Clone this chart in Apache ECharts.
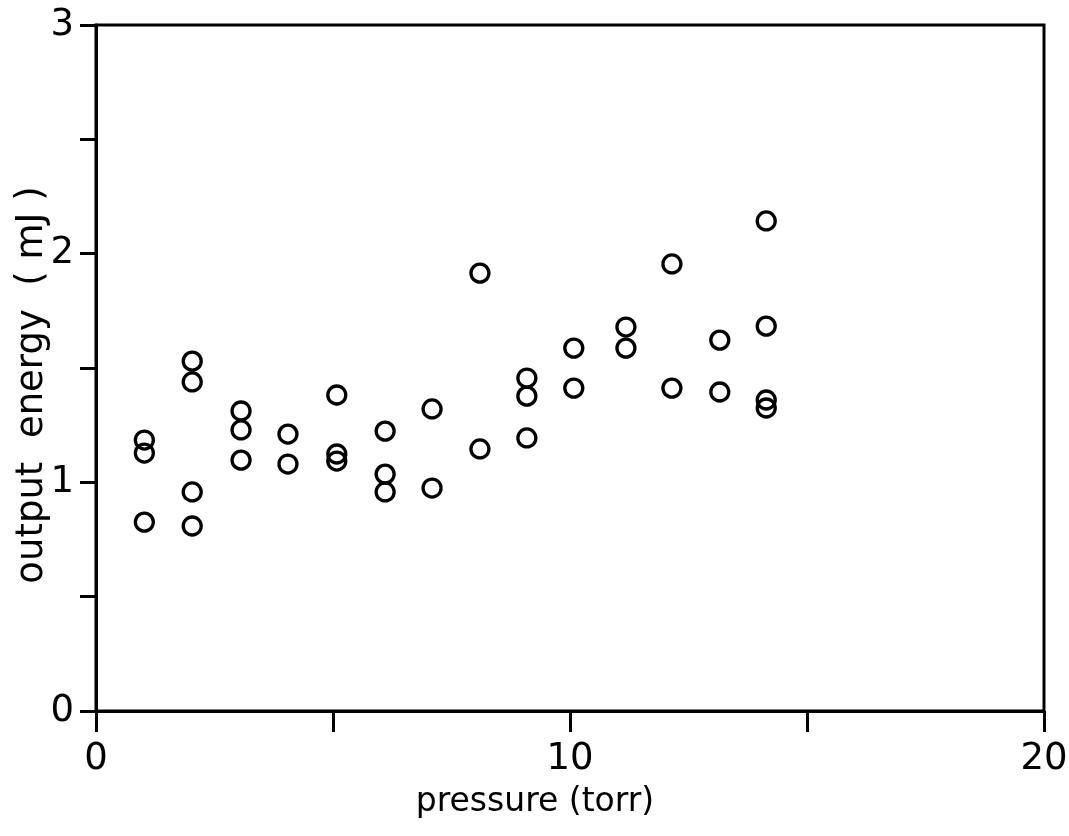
<!DOCTYPE html>
<html>
<head>
<meta charset="utf-8">
<style>
  html, body { margin: 0; padding: 0; background: #fff; }
  #chart { width: 1069px; height: 836px; }
</style>
<script src="https://cdn.jsdelivr.net/npm/echarts@6/dist/echarts.min.js"></script>
</head>
<body>
<div id="chart"></div>
<script>
// pressure (torr) of each measured point
const pressure = [
  1.02, 1.02, 1.02,
  2.03, 2.03, 2.03, 2.03,
  3.06, 3.06, 3.06,
  4.05, 4.05,
  5.08, 5.08, 5.08,
  6.10, 6.10, 6.10,
  7.09, 7.09,
  8.10, 8.10,
  9.09, 9.09, 9.09,
  10.08, 10.08,
  11.18, 11.18,
  12.15, 12.15,
  13.16, 13.16,
  14.14, 14.14, 14.14, 14.14
];
// output energy (mJ) of each measured point
const energy = [
  1.185, 1.128, 0.826,
  1.530, 1.439, 0.958, 0.809,
  1.312, 1.229, 1.097,
  1.211, 1.080,
  1.382, 1.124, 1.093,
  1.224, 1.036, 0.958,
  1.321, 0.975,
  1.915, 1.146,
  1.456, 1.377, 1.194,
  1.587, 1.412,
  1.679, 1.587,
  1.955, 1.412,
  1.622, 1.395,
  2.143, 1.683, 1.360, 1.325
];
const xTickLabels = [0, 10, 20];
const yTickLabels = [0, 1, 2, 3];

const points = pressure.map((p, i) => [p, energy[i]]);
const font = 'DejaVu Sans';

const chart = echarts.init(document.getElementById('chart'), null, { renderer: 'canvas' });
chart.setOption({
  backgroundColor: '#fff',
  animation: false,
  grid: {
    left: 96, right: 25, top: 25, bottom: 125,
    outerBoundsMode: 'none', containLabel: false,
    show: true, borderColor: '#000', borderWidth: 3, backgroundColor: 'transparent'
  },
  xAxis: {
    type: 'value', min: 0, max: 20, interval: 5,
    name: 'pressure (torr)', nameLocation: 'middle', nameGap: 75, nameMoveOverlap: false,
    nameTextStyle: { fontFamily: font, fontSize: 33, color: '#000', padding: [0, 70, 0, 0] },
    axisLine: { show: true, lineStyle: { color: '#000', width: 3 } },
    axisTick: { show: true, inside: false, length: 21, lineStyle: { color: '#000', width: 3 } },
    axisLabel: {
      fontFamily: font, fontSize: 37, color: '#000', margin: 30,
      formatter: v => xTickLabels.includes(v) ? String(v) : ''
    },
    splitLine: { show: false }
  },
  yAxis: {
    type: 'value', min: 0, max: 3, interval: 0.5,
    name: 'output  energy  ( mJ )', nameLocation: 'middle', nameGap: 45, nameMoveOverlap: false,
    nameTextStyle: { fontFamily: font, fontSize: 37, color: '#000', padding: [0, 34, 0, 0] },
    axisLine: { show: true, lineStyle: { color: '#000', width: 3 } },
    axisTick: { show: true, inside: false, length: 16, lineStyle: { color: '#000', width: 3 } },
    axisLabel: {
      fontFamily: font, fontSize: 37, color: '#000', margin: 22,
      formatter: v => yTickLabels.includes(v) ? String(v) : ''
    },
    splitLine: { show: false }
  },
  series: [{
    type: 'scatter',
    data: points,
    symbol: 'circle',
    symbolSize: 18,
    itemStyle: { color: 'rgba(0,0,0,0)', borderColor: '#000', borderWidth: 3.3, opacity: 1 },
    emphasis: { disabled: true }
  }]
});
</script>
</body>
</html>
